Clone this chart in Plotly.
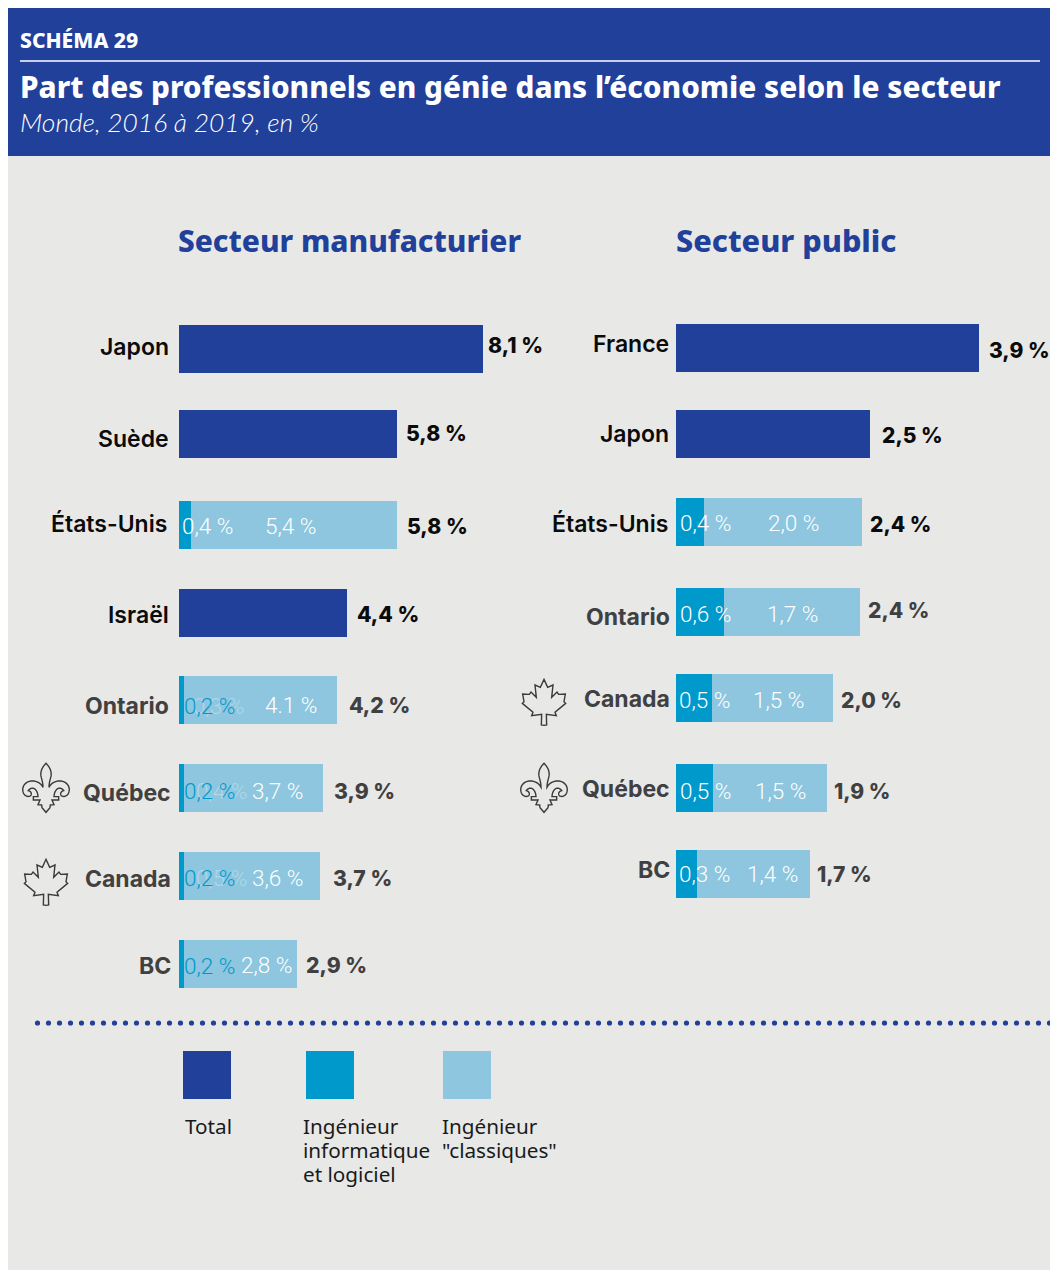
import plotly.graph_objects as go

# ---------- data ----------
manu_cats = ["Japon", "Suède", "États-Unis", "Israël", "Ontario", "Québec", "Canada", "BC"]
manu_total = [8.09, 5.80, None, 4.47, None, None, None, None]
manu_info = [None, None, 0.32, None, 0.13, 0.13, 0.13, 0.13]
manu_classic = [None, None, 5.48, None, 4.07, 3.70, 3.62, 3.01]
manu_total_labels = ["8,1 %", "5,8 %", "5,8 %", "4,4 %", "4,2 %", "3,9 %", "3,7 %", "2,9 %"]
manu_info_labels = [None, None, "0,4 %", None, "0,2 %", "0,2 %", "0,2 %", "0,2 %"]
manu_classic_labels = [None, None, "5,4 %", None, "4.1 %", "3,7 %", "3,6 %", "2,8 %"]

pub_cats = ["France", "Japon", "États-Unis", "Ontario", "Canada", "Québec", "BC"]
pub_total = [3.89, 2.49, None, None, None, None, None]
pub_info = [None, None, 0.36, 0.61, 0.46, 0.48, 0.27]
pub_classic = [None, None, 2.03, 1.75, 1.55, 1.46, 1.45]
pub_total_labels = ["3,9 %", "2,5 %", "2,4 %", "2,4 %", "2,0 %", "1,9 %", "1,7 %"]
pub_info_labels = [None, None, "0,4 %", "0,6 %", "0,5 %", "0,5 %", "0,3 %"]
pub_classic_labels = [None, None, "2,0 %", "1,7 %", "1,5 %", "1,5 %", "1,4 %"]

series_names = ["Total", "Ingénieur informatique et logiciel", 'Ingénieur "classiques"']

# ---------- layout constants (page pixels) ----------
W, H = 1050, 1270
OX, OY = 0, 0
BLUE, CYAN, SKY = "#21409A", "#0099CC", "#8DC6DE"
BG = "#E8E8E7"
BLACK, DARK = "#0B0B0B", "#404041"
HEAD = "Noto Sans"
LAB = "Inter"
THIN = "Roboto"

manu_rows = [0, 0.966, 2, 3, 3.99, 4.99, 5.99, 6.99]
pub_rows = [-0.011, 0.966, 1.966, 2.989, 3.966, 4.989, 5.966]
ROW_PX = 88
Y_TOP, Y_BOT = 300, 1000
y_range = [(Y_BOT - 349) / ROW_PX, (Y_TOP - 349) / ROW_PX]


def fx(x):
    return (x - OX) / W


def fy(y):
    return 1 - (y - OY) / H


fig = go.Figure()


def add_panel(rows, total, info, classic, cats, xa, ya):
    for vals, name, col in zip((total, info, classic), series_names, (BLUE, CYAN, SKY)):
        fig.add_trace(go.Bar(y=rows, x=vals, name=name, orientation="h", marker=dict(color=col, line_width=0),
                             width=48 / ROW_PX, xaxis=xa, yaxis=ya, customdata=cats, showlegend=False,
                             hovertemplate="%{customdata}: %{x}<extra>" + name + "</extra>"))


add_panel(manu_rows, manu_total, manu_info, manu_classic, manu_cats, "x", "y")
add_panel(pub_rows, pub_total, pub_info, pub_classic, pub_cats, "x2", "y2")

anns = []


def T(text, x, y, anchor="left", size=22, color=BLACK, family=LAB, weight=400, italic=False, opacity=1):
    anns.append(dict(text=text, x=fx(x), y=fy(y), xref="paper", yref="paper", xanchor=anchor, yanchor="middle",
                     showarrow=False, borderpad=0, borderwidth=0, opacity=opacity, align="left",
                     font=dict(family=family, size=size, color=color, weight=weight,
                               style="italic" if italic else "normal")))


# header
T("SCHÉMA 29", 20, 40, size=21.1, color="white", family=HEAD, weight=800)
T("Part des professionnels en génie dans l’économie selon le secteur", 20, 86, size=29.7, color="white", family=HEAD, weight=800)
T("Monde, 2016 à 2019, en %", 20, 122, size=26.4, color="white", family="Lato", weight=300, italic=True)
T("Secteur manufacturier", 178, 240, size=29.8, color=BLUE, family=HEAD, weight=800)
T("Secteur public", 676, 240, size=30.6, color=BLUE, family=HEAD, weight=800)

# row labels
manu_lab_pos = [(169, 347), (169, 439), (167, 524), (169, 615), (169, 706), (171, 793), (171, 879), (171, 966)]
pub_lab_pos = [(669, 344), (669, 434), (668, 524), (670, 617), (670, 699), (670, 789), (670, 870)]
manu_lab_col = [BLACK] * 4 + [DARK] * 4
pub_lab_col = [BLACK] * 3 + [DARK] * 4
for c, (x, y), col in zip(manu_cats, manu_lab_pos, manu_lab_col):
    T(c, x, y, "right", 23, col, LAB, 700 if col == DARK else 600)
for c, (x, y), col in zip(pub_cats, pub_lab_pos, pub_lab_col):
    T(c, x, y, "right", 23, col, LAB, 700 if col == DARK else 600)

# total labels
manu_tot_pos = [(488, 345), (406, 433), (407, 526), (357, 614), (349, 705), (334, 791), (333, 878), (306, 965)]
pub_tot_pos = [(989, 351), (882, 436), (870, 524), (868, 611), (841, 700), (834, 791), (817, 874)]
for t, (x, y), col in zip(manu_total_labels, manu_tot_pos, manu_lab_col):
    T(t, x, y, "left", 21.2, col, LAB, 800)
for t, (x, y), col in zip(pub_total_labels, pub_tot_pos, pub_lab_col):
    T(t, x, y, "left", 21, col, LAB, 800)

# ghost labels left behind the blue ones in the source
for t, x, y in [("0,3 %", 193, 706), ("0,4 %", 196, 791), ("0,5 %", 196, 878)]:
    T(t, x, y, "left", 22.5, "white", THIN, 300, opacity=0.3)

# inner labels
manu_info_pos = [None, None, (182, 526), None, (184, 706), (184, 791), (184, 878), (184, 966)]
manu_info_col = [None, None, "white", None, CYAN, CYAN, CYAN, CYAN]
manu_cl_pos = [None, None, (265, 526), None, (265, 705), (252, 791), (252, 878), (241, 965)]
pub_info_pos = [None, None, (680, 523), (680, 614), (679, 700), (680, 791), (679, 874)]
pub_cl_pos = [None, None, (768, 523), (767, 614), (753, 700), (755, 791), (747, 874)]
for t, p, c in zip(manu_info_labels, manu_info_pos, manu_info_col):
    if t:
        T(t, p[0], p[1], "left", 22.5, c, THIN, 300)
for t, p in zip(manu_classic_labels, manu_cl_pos):
    if t:
        T(t, p[0], p[1], "left", 22.5, "white", THIN, 300)
for t, p in zip(pub_info_labels, pub_info_pos):
    if t:
        T(t, p[0], p[1], "left", 22.5, "white", THIN, 300)
for t, p in zip(pub_classic_labels, pub_cl_pos):
    if t:
        T(t, p[0], p[1], "left", 22.5, "white", THIN, 300)

# legend text
for t, x, y in [("Total", 185, 1126), ("Ingénieur", 303, 1126), ("informatique", 303, 1150), ("et logiciel", 303, 1174),
                ("Ingénieur", 442, 1126), ('"classiques"', 442, 1150)]:
    T(t, x, y, "left", 20.7, "#1A1A1A", HEAD, 400)

shapes = []


def rect(x0, y0, x1, y1, col):
    shapes.append(dict(type="rect", xref="paper", yref="paper", x0=fx(x0), x1=fx(x1), y0=fy(y0), y1=fy(y1),
                       fillcolor=col, line_width=0, layer="below"))


rect(8, 8, 1050, 1270, BG)
rect(8, 8, 1050, 156, BLUE)
rect(20, 60.3, 1040, 61.8, "white")
rect(183, 1051, 231, 1099, BLUE)
rect(306, 1051, 354, 1099, CYAN)
rect(443, 1051, 491, 1099, SKY)

# dotted rule
dx = 37.5
while dx < 1052:
    shapes.append(dict(type="circle", xref="paper", yref="paper", x0=fx(dx - 2.6), x1=fx(dx + 2.6), y0=fy(1023 - 2.6),
                       y1=fy(1023 + 2.6), fillcolor=BLUE, line_width=0))
    dx += 11


# icons
def bez(p0, c1, c2, p3, n=10):
    out = []
    for i in range(1, n + 1):
        t = i / n
        out.append(tuple((1 - t) ** 3 * a + 3 * (1 - t) ** 2 * t * b + 3 * (1 - t) * t ** 2 * c + t ** 3 * d
                         for a, b, c, d in zip(p0, c1, c2, p3)))
    return out


CX = 93
leaf_half = [(93, 28), (104, 52), (120, 45), (116, 82), (132, 66), (137, 73), (157, 72), (153, 95), (158, 100),
             (126, 127), (130, 137), (100, 133), (101, 165), (93, 166)]

fl = [(93, 25)]
for seg in [((104, 36), (112, 50), (107, 68)), ((104, 78), (102, 88), (102, 97)), ((108, 85), (122, 76), (138, 78)),
            ((155, 80), (166, 95), (162, 110)), ((160, 122), (146, 128), (139, 122)), ((134, 116), (139, 108), (146, 107)),
            ((136, 92), (118, 100), (117, 125))]:
    fl += bez(fl[-1], *seg)
fl += [(131, 125), (131, 135), (111, 135), (117, 149), (106, 150), (105, 158), (93, 172)]


def icon(half, ox, oy, s=1 / 3):
    pts = half + [(2 * CX - x, y) for x, y in reversed(half[:-1])]
    path = "M" + " L".join(f"{fx(ox + x * s):.5f},{fy(oy + y * s):.5f}" for x, y in pts) + " Z"
    shapes.append(dict(type="path", xref="paper", yref="paper", path=path, line=dict(color="#3A3A3A", width=1.4),
                       fillcolor="rgba(0,0,0,0)"))


icon(fl, 15, 755)
icon(leaf_half, 15, 850)
icon(fl, 513, 755)
icon(leaf_half, 513, 670)

fig.update_layout(
    width=W, height=H, autosize=False, margin=dict(l=0, r=0, t=0, b=0, pad=0),
    paper_bgcolor="white", plot_bgcolor="rgba(0,0,0,0)", barmode="stack", bargap=0, showlegend=False,
    xaxis=dict(domain=[fx(179), fx(579)], range=[0, 400 / 37.6], visible=False, fixedrange=True),
    yaxis=dict(domain=[fy(Y_BOT), fy(Y_TOP)], range=y_range, visible=False, fixedrange=True),
    xaxis2=dict(domain=[fx(676), 1], range=[0, 374 / 78], visible=False, fixedrange=True, anchor="y2"),
    yaxis2=dict(domain=[fy(Y_BOT), fy(Y_TOP)], range=y_range, visible=False, fixedrange=True, anchor="x2"),
    annotations=anns, shapes=shapes,
)

fig.write_html("out.html", config={"displayModeBar": False}, default_width=f"{W}px", default_height=f"{H}px",
               post_script="document.body.style.margin='0';document.documentElement.style.overflow='hidden';")
